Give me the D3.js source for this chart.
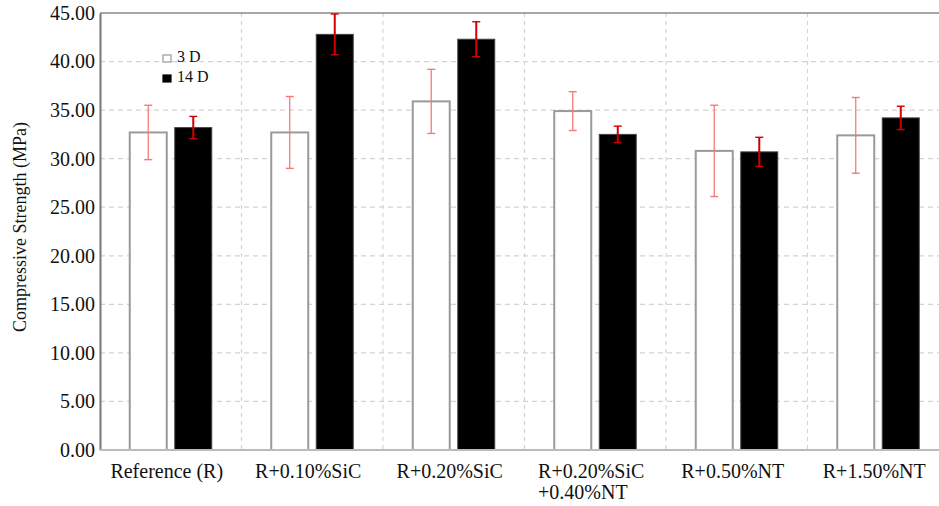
<!DOCTYPE html>
<html>
<head>
<meta charset="utf-8">
<script src="https://cdn.jsdelivr.net/npm/d3@7"></script>
<style>
  body { margin: 0; background: #fff; }
  svg text { font-family: "Liberation Serif", "Times New Roman", serif; fill: #111; }
</style>
</head>
<body>
<svg id="chart" width="939" height="506"></svg>
<script>
// data
var categories = ["Reference (R)", "R+0.10%SiC", "R+0.20%SiC", "R+0.20%SiC\n+0.40%NT", "R+0.50%NT", "R+1.50%NT"];
var series = ["3 D", "14 D"];
var values3D = [32.7, 32.7, 35.9, 34.9, 30.8, 32.4];
var values14D = [33.2, 42.8, 42.3, 32.5, 30.7, 34.2];
var err3D = [2.8, 3.7, 3.3, 2.0, 4.7, 3.9];
var err14D = [1.15, 2.1, 1.8, 0.85, 1.5, 1.2];
var yTicks = [0, 5, 10, 15, 20, 25, 30, 35, 40, 45];

var svg = d3.select("#chart");
var mLeft = 100, mRight = 949, mTop = 13, mBottom = 450;

var x = d3.scaleBand().domain(categories).range([mLeft, mRight]).padding(0);
var xs = d3.scaleBand().domain(series).range([0, x.bandwidth()])
    .paddingInner(0.178).paddingOuter(0.661);
var y = d3.scaleLinear().domain([0, 45]).range([mBottom, mTop]);

// grid
svg.append("g").selectAll("line").data(yTicks.slice(1, -1)).join("line")
    .attr("x1", mLeft).attr("x2", mRight)
    .attr("y1", function(d) { return y(d); }).attr("y2", function(d) { return y(d); })
    .attr("stroke", "#d4d4d4").attr("stroke-width", 1.2).attr("stroke-dasharray", "5,4");
svg.append("g").selectAll("line").data(categories.slice(1)).join("line")
    .attr("x1", function(d) { return x(d); }).attr("x2", function(d) { return x(d); })
    .attr("y1", mTop).attr("y2", mBottom)
    .attr("stroke", "#d4d4d4").attr("stroke-width", 1.2).attr("stroke-dasharray", "4,4");

// frame top
svg.append("line").attr("x1", mLeft).attr("x2", mRight).attr("y1", mTop).attr("y2", mTop)
    .attr("stroke", "#8a8a8a").attr("stroke-width", 1.5);

var rows = categories.map(function(c, i) {
  return [
    { cat: c, s: "3 D", v: values3D[i], e: err3D[i] },
    { cat: c, s: "14 D", v: values14D[i], e: err14D[i] }
  ];
});
var flat = d3.merge(rows);
function cx(d) { return x(d.cat) + xs(d.s) + xs.bandwidth() / 2; }

// bars
svg.append("g").selectAll("rect").data(flat).join("rect")
    .attr("x", function(d) { return x(d.cat) + xs(d.s); })
    .attr("y", function(d) { return y(d.v); })
    .attr("width", xs.bandwidth())
    .attr("height", function(d) { return y(0) - y(d.v); })
    .attr("fill", function(d) { return d.s == "3 D" ? "#fff" : "#000"; })
    .attr("stroke", function(d) { return d.s == "3 D" ? "#9a9a9a" : "#444"; })
    .attr("stroke-width", function(d) { return d.s == "3 D" ? 2 : 1; });

// error bars
var eb = svg.append("g").selectAll("g").data(flat).join("g")
    .attr("stroke", function(d) { return d.s == "3 D" ? "#f47a7a" : "#d40000"; });
eb.append("line")
    .attr("x1", cx).attr("x2", cx)
    .attr("y1", function(d) { return y(d.v + d.e); })
    .attr("y2", function(d) { return y(d.v - d.e); })
    .attr("stroke-width", function(d) { return d.s == "3 D" ? 1.3 : 2; });
eb.selectAll("line.cap").data(function(d) { return [[d, d.v + d.e], [d, d.v - d.e]]; }).join("line")
    .attr("class", "cap")
    .attr("x1", function(p) { return cx(p[0]) - 4; })
    .attr("x2", function(p) { return cx(p[0]) + 4; })
    .attr("y1", function(p) { return y(p[1]); })
    .attr("y2", function(p) { return y(p[1]); })
    .attr("stroke-width", 1.4);

// y axis
var yAxis = svg.append("g").attr("transform", "translate(" + mLeft + ",0)")
    .call(d3.axisLeft(y).tickValues(yTicks).tickFormat(d3.format(".2f")).tickSize(0).tickPadding(5));
yAxis.select(".domain").attr("stroke", "#777").attr("stroke-width", 2);
yAxis.selectAll("text").attr("font-size", 20).attr("font-family", "Liberation Serif").attr("fill", "#111");

// x axis
svg.append("line").attr("x1", mLeft).attr("x2", mRight).attr("y1", mBottom).attr("y2", mBottom)
    .attr("stroke", "#bbb").attr("stroke-width", 2);
var xl = svg.append("g").selectAll("text").data(categories).join("text")
    .attr("y", 478)
    .attr("font-size", 20);
xl.each(function(d) {
  var parts = d.split("\n");
  var t = d3.select(this);
  parts.forEach(function(p, i) {
    t.append("tspan").attr("dy", i == 0 ? 0 : 21).text(p);
  });
  // left-align the lines on the first line's start
  var w = t.select("tspan").node().getComputedTextLength();
  var x0 = x(d) + x.bandwidth() / 2 - 4 - w / 2;
  t.selectAll("tspan").attr("x", x0);
});

// y label
svg.append("text")
    .attr("transform", "translate(26,227) rotate(-90)")
    .attr("text-anchor", "middle")
    .attr("font-size", 18)
    .text("Compressive Strength (MPa)");

// legend
var leg = svg.append("g").attr("transform", "translate(163,56)");
leg.selectAll("rect").data(series).join("rect")
    .attr("x", 0).attr("y", function(d, i) { return i * 20 - 1; })
    .attr("width", 8).attr("height", 7)
    .attr("fill", function(d, i) { return i == 0 ? "#fff" : "#000"; })
    .attr("stroke", function(d, i) { return i == 0 ? "#999" : "#000"; })
    .attr("stroke-width", 1.2);
leg.selectAll("text").data(series).join("text")
    .attr("x", 14).attr("y", function(d, i) { return i * 20 + 6; })
    .attr("font-size", 16)
    .text(function(d) { return d; });
</script>
</body>
</html>
